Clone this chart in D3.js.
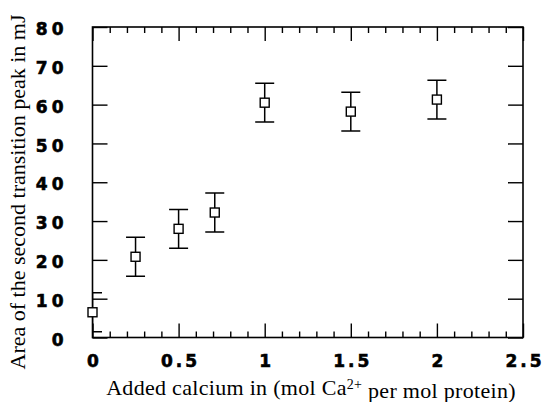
<!DOCTYPE html>
<html>
<head>
<meta charset="utf-8">
<script src="https://cdn.jsdelivr.net/npm/d3@7"></script>
<style>
  html, body { margin: 0; padding: 0; background: #fff; }
  svg { display: block; }
  .tick text { font-family: "DejaVu Sans", sans-serif; font-weight: bold; font-size: 17px; letter-spacing: 4px; fill: #000; stroke: #000; stroke-width: 0.6px; }
  .xlabels .tick text { letter-spacing: 3px; }
  .title { font-family: "Liberation Serif", "Times New Roman", serif; font-size: 22px; fill: #000; }
</style>
</head>
<body>
<svg id="chart" width="544" height="402"></svg>
<script>
// Added calcium (mol Ca2+ per mol protein) vs. area of the second transition peak (mJ)
const calcium   = [0, 0.25, 0.5, 0.71, 1.0, 1.5, 2.0];
const peakArea  = [6.5, 20.8, 28.0, 32.2, 60.5, 58.2, 61.3];
const peakError = [5, 5, 5, 5, 5, 5, 5];

const xMajorTicks = [0, 0.5, 1, 1.5, 2, 2.5];
const xTickLabels = ["0", "0.5", "1", "1.5", "2", "2.5"];
const xMinorTicks = d3.range(0, 25).map(i => i / 10).filter(v => Math.abs(v * 2 - Math.round(v * 2)) > 1e-6);
const yMajorTicks = [0, 10, 20, 30, 40, 50, 60, 70, 80];

const margin = { left: 92.5, right: 523, top: 27, bottom: 337.5 };

const svg = d3.select("#chart");

const x = d3.scaleLinear().domain([0, 2.5]).range([margin.left, margin.right]);
const y = d3.scaleLinear().domain([0, 80]).range([margin.bottom, margin.top]);

// clip region for the error bars (they stay inside the frame)
svg.append("defs").append("clipPath").attr("id", "plotClip")
  .append("rect")
  .attr("x", margin.left).attr("y", margin.top)
  .attr("width", margin.right - margin.left)
  .attr("height", margin.bottom - margin.top);

// bottom axis: inward ticks, labelled majors
const bottomMajor = svg.append("g")
  .attr("class", "xlabels")
  .attr("transform", `translate(0,${margin.bottom})`)
  .call(d3.axisBottom(x).tickValues(xMajorTicks)
    .tickFormat((d, i) => xTickLabels[i])
    .tickSize(-14).tickPadding(17));
bottomMajor.selectAll("text").attr("dx", "1.5px");
svg.append("g")
  .attr("transform", `translate(0,${margin.bottom})`)
  .call(d3.axisBottom(x).tickValues(xMinorTicks).tickFormat("").tickSize(-6));

// top axis: same ticks, no labels
svg.append("g")
  .attr("transform", `translate(0,${margin.top})`)
  .call(d3.axisTop(x).tickValues(xMajorTicks).tickFormat("").tickSize(-14));
svg.append("g")
  .attr("transform", `translate(0,${margin.top})`)
  .call(d3.axisTop(x).tickValues(xMinorTicks).tickFormat("").tickSize(-6));

// left axis with labels
const leftAxis = svg.append("g")
  .attr("transform", `translate(${margin.left},0)`)
  .call(d3.axisLeft(y).tickValues(yMajorTicks).tickFormat(d3.format("d"))
    .tickSize(-15).tickPadding(25));
leftAxis.selectAll("text").attr("dy", "0.45em");

// right axis, ticks only
svg.append("g")
  .attr("transform", `translate(${margin.right},0)`)
  .call(d3.axisRight(y).tickValues(yMajorTicks).tickFormat("").tickSize(-15));

svg.selectAll(".domain").remove();
svg.selectAll(".tick line").attr("stroke", "#000").attr("stroke-width", 1.4);

// frame
svg.append("rect")
  .attr("x", margin.left).attr("y", margin.top)
  .attr("width", margin.right - margin.left)
  .attr("height", margin.bottom - margin.top)
  .attr("fill", "none").attr("stroke", "#000").attr("stroke-width", 1.6);

const data = calcium.map((c, i) => ({ c, v: peakArea[i], e: peakError[i] }));

// error bars
const bars = svg.append("g").attr("clip-path", "url(#plotClip)")
  .attr("stroke", "#000").attr("stroke-width", 1.5).attr("fill", "none");
const capHalf = 9.5;
bars.selectAll("g").data(data).join("g").each(function (d) {
  const g = d3.select(this);
  const cx = x(d.c);
  g.append("line").attr("x1", cx).attr("x2", cx).attr("y1", y(d.v + d.e)).attr("y2", y(d.v - d.e));
  g.append("line").attr("x1", cx - capHalf).attr("x2", cx + capHalf).attr("y1", y(d.v + d.e)).attr("y2", y(d.v + d.e));
  g.append("line").attr("x1", cx - capHalf).attr("x2", cx + capHalf).attr("y1", y(d.v - d.e)).attr("y2", y(d.v - d.e));
});

// open square markers
const sq = 9;
svg.append("g").selectAll("rect").data(data).join("rect")
  .attr("x", d => x(d.c) - sq / 2).attr("y", d => y(d.v) - sq / 2)
  .attr("width", sq).attr("height", sq)
  .attr("fill", "#fff").attr("stroke", "#000").attr("stroke-width", 1.4);

// axis titles
const xTitle = svg.append("text").attr("class", "title")
  .attr("x", 311).attr("y", 395)
  .attr("text-anchor", "middle")
  .attr("letter-spacing", "0.3px");
xTitle.append("tspan").text("Added calcium in (mol Ca");
xTitle.append("tspan").attr("dy", "-0.42em").attr("font-size", "14px").text("2+");
xTitle.append("tspan").attr("dy", "0.42em").text(" per mol protein)");

svg.append("text").attr("class", "title")
  .attr("transform", "translate(25,192) rotate(-90)")
  .attr("text-anchor", "middle")
  .text("Area of the second transition peak in mJ");
</script>
</body>
</html>
